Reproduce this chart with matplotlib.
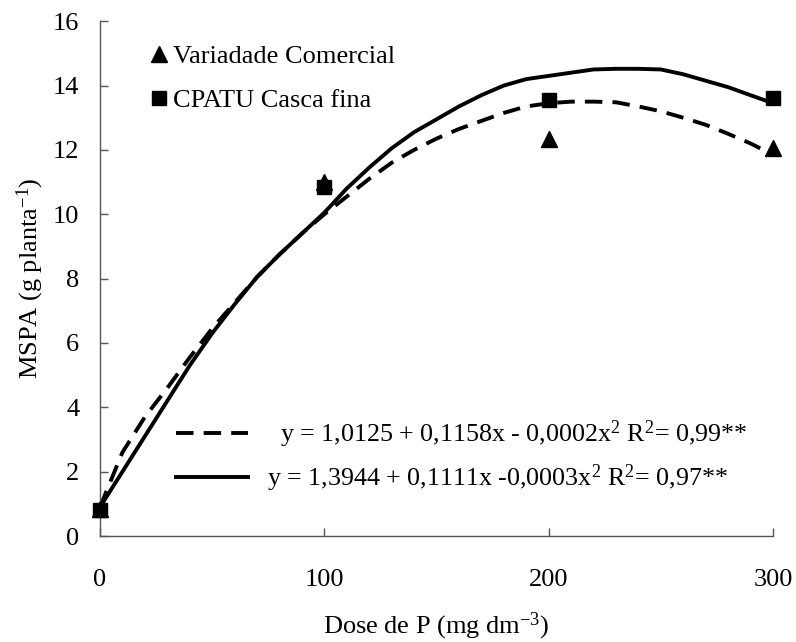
import numpy as np
import matplotlib
matplotlib.use("Agg")
import matplotlib.pyplot as plt

plt.rcParams.update({
    "font.family": "Liberation Serif",
    "mathtext.fontset": "custom",
    "mathtext.rm": "Liberation Serif",
    "mathtext.it": "Liberation Serif:italic",
    "font.size": 19,
})

# ── Data ──────────────────────────────────────────────────────
dose = [0, 100, 200, 300]
comercial = [0.85, 11.0, 12.35, 12.05]
cpatu = [0.8, 10.85, 13.55, 13.62]

curve_x = [0, 10, 20, 30, 40, 50, 60, 70, 80, 90, 100, 110, 120, 130, 140, 150,
           160, 170, 180, 190, 200, 210, 220, 230, 240, 250, 260, 270, 280, 290, 300]
fit_comercial = [0.9, 2.6, 3.7, 4.6, 5.55, 6.45, 7.25, 8.05, 8.75, 9.4, 10.0,
                 10.55, 11.1, 11.6, 12.0, 12.35, 12.65, 12.9, 13.15, 13.35, 13.45,
                 13.5, 13.5, 13.48, 13.35, 13.2, 13.0, 12.78, 12.5, 12.2, 11.85]
fit_cpatu = [0.9, 2.0, 3.1, 4.2, 5.3, 6.3, 7.2, 8.05, 8.75, 9.4, 10.05,
             10.8, 11.45, 12.05, 12.55, 12.95, 13.35, 13.7, 14.0, 14.2, 14.3,
             14.4, 14.5, 14.52, 14.52, 14.5, 14.35, 14.15, 13.95, 13.7, 13.45]

eq_comercial = r"  y = 1,0125 + 0,1158x - 0,0002$\mathregular{x^2}$ $\mathregular{R^2}$= 0,99**"
eq_cpatu = r"y = 1,3944 + 0,1111x -0,0003$\mathregular{x^2}$ $\mathregular{R^2}$= 0,97**"

fig = plt.figure(figsize=(7.96, 6.42), dpi=100)
ax = fig.add_axes([0.1256, 0.165, 0.8455, 0.802])

line_d, = ax.plot(curve_x, fit_comercial, color="black", lw=2.8,
                  dashes=(4.5, 2.6), label=eq_comercial)
line_s, = ax.plot(curve_x, fit_cpatu, color="black", lw=2.8, label=eq_cpatu)

pts_t, = ax.plot(dose, comercial, ls="none", marker="^", ms=11, color="black",
                 clip_on=False, zorder=5, label="Variadade Comercial")
pts_s, = ax.plot(dose, cpatu, ls="none", marker="s", ms=10, color="black",
                 clip_on=False, zorder=6, label="CPATU Casca fina")

ax.set_xlim(0, 300)
ax.set_ylim(0, 16)
ax.set_xticks([0, 100, 200, 300])
ax.set_yticks(range(0, 17, 2))
ax.tick_params(axis="both", direction="in", length=6, width=1, color="#555555")
ax.tick_params(axis="x", pad=24)
ax.tick_params(axis="y", pad=15)

for side in ["top", "right"]:
    ax.spines[side].set_visible(False)
for side in ["left", "bottom"]:
    ax.spines[side].set_color("#555555")
    ax.spines[side].set_linewidth(1)

ax.set_ylabel(r"MSPA (g planta$^{\mathregular{-1}}$)", labelpad=5)
ax.set_xlabel(r"Dose de P (mg dm$^{\mathregular{-3}}$)", labelpad=14)

leg1 = ax.legend(handles=[pts_t, pts_s], loc="upper left",
                 bbox_to_anchor=(0.06, 0.975), frameon=False, fontsize=19,
                 handlelength=0.6, handletextpad=0.25, labelspacing=0.78,
                 borderaxespad=0)
ax.add_artist(leg1)
ax.legend(handles=[line_d, line_s], loc="lower left",
          bbox_to_anchor=(0.097, 0.062), frameon=False, fontsize=18.7,
          handlelength=2.8, handletextpad=0.7, labelspacing=0.47,
          borderaxespad=0)

fig.savefig("out.png", dpi=100, facecolor="white")
